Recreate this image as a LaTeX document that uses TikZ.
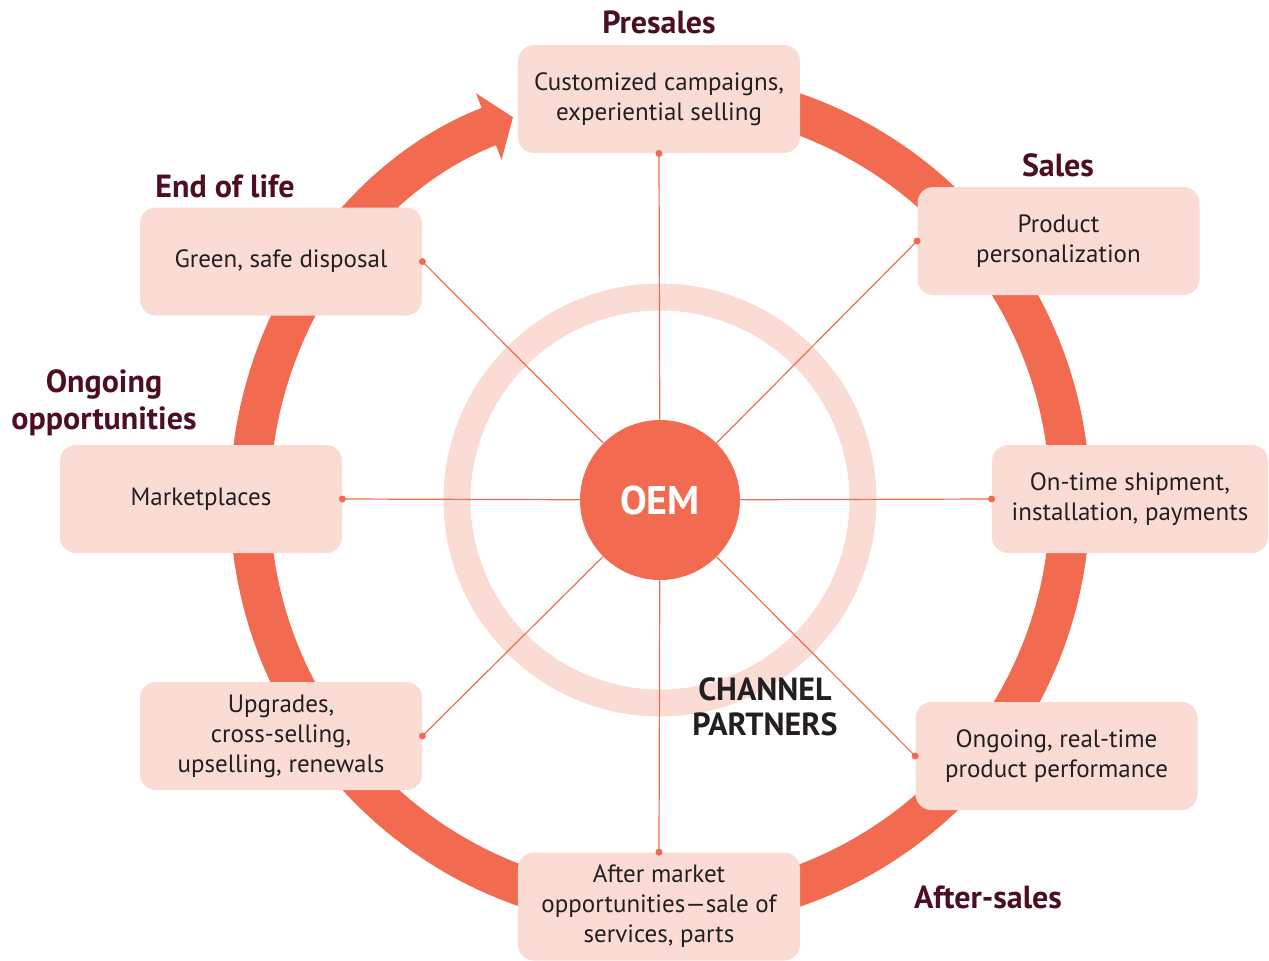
\documentclass[tikz,border=0pt]{standalone}
\usepackage{fontspec}
\setmainfont{PT Sans}
\usetikzlibrary{arrows.meta}

\definecolor{ringred}{HTML}{F26B50}
\definecolor{boxpink}{HTML}{FBDCD5}
\definecolor{headred}{HTML}{4D0F1F}
\definecolor{textgray}{HTML}{231F20}

\begin{document}
\begin{tikzpicture}[x=0.5pt,y=0.5pt,
        stage/.style={rectangle,rounded corners=8pt,fill=boxpink,minimum width=141pt,minimum height=54pt,
            align=center,text=textgray,font=\fontsize{12.5}{15}\selectfont},
        phase/.style={align=center,text=headred,font=\fontsize{16}{18.5}\selectfont\bfseries},
        spoke/.style={ringred,line width=0.6pt}
    ]
    \useasboundingbox (-660,-460) rectangle (609,500);

    % rings
    \draw[boxpink,line width=13.5pt] (0,0) circle[radius=203];
    \draw[ringred,line width=20pt,-{Triangle[length=13pt,width=35pt]}]
        (445:410) arc[start angle=445,end angle=111,radius=410];

    \node[circle,fill=ringred,minimum size=80pt,inner sep=0pt,text=white,
        font=\fontsize{20}{22}\selectfont\bfseries] (oem) at (0,0) {OEM};

    % stages
    \node[stage] (pre)  at (-1,401)    {Customized campaigns,\\experiential selling};
    \node[stage] (sale) at (398.5,259) {Product\\personalization};
    \node[stage,minimum width=138pt] (ship) at (470,1) {On-time shipment,\\installation, payments};
    \node[stage] (perf) at (396.5,-256) {Ongoing, real-time\\product performance};
    \node[stage] (aftm) at (-1,-406.5) {After market\\opportunities---sale of\\services, parts};
    \node[stage] (upg)  at (-379,-236) {Upgrades,\\cross-selling,\\upselling, renewals};
    \node[stage] (mkt)  at (-459,1)    {Marketplaces};
    \node[stage] (eol)  at (-379,238.5) {Green, safe disposal};

    % spokes
    \draw[spoke] (oem) -- (pre.south);
    \draw[spoke] (oem) -- (sale.west);
    \draw[spoke] (oem) -- (ship.west);
    \draw[spoke] (oem) -- (perf.west);
    \draw[spoke] (oem) -- (aftm.north);
    \draw[spoke] (oem) -- (upg.east);
    \draw[spoke] (oem) -- (mkt.east);
    \draw[spoke] (oem) -- (eol.east);
    \foreach \a in {pre.south,sale.west,ship.west,perf.west,aftm.north,upg.east,mkt.east,eol.east}
        \fill[ringred] (\a) circle[radius=3.5];

    % phase labels
    \node[phase] (presales) at (-1,478)  {Presales};
    \node[phase] (sales)    at (398,335) {Sales};
    \node[phase] (endlife)  at (-435,314) {End of life};
    \node[phase] (ongoing)  at (-556,97) {Ongoing\\opportunities};
    \node[phase] (after)    at (328,-397) {After-sales};
    \node[phase,text=textgray,font=\fontsize{16}{17.5}\selectfont\bfseries] (channel) at (105,-207) {CHANNEL\\PARTNERS};
\end{tikzpicture}
\end{document}
